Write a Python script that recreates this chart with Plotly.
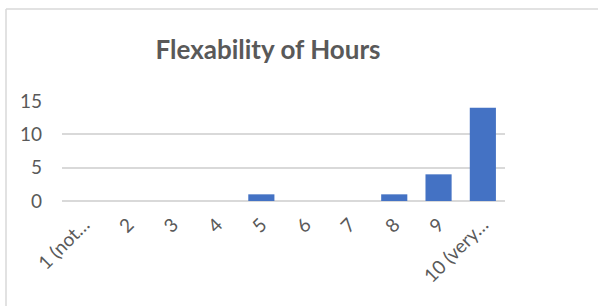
import plotly.graph_objects as go

categories = ["1 (not…", "2", "3", "4", "5", "6", "7", "8", "9", "10 (very…"]
values = [0, 0, 0, 0, 1, 0, 0, 1, 4, 14]
y_ticks = [0, 5, 10, 15]

W, H = 598, 306
L, R, T, B = 62, 93, 101, 105
pw = W - L - R
ph = H - T - B

def px2x(px):
    return (px - L) / pw

def py2y(py):
    return (H - B - py) / ph

fig = go.Figure(go.Bar(x=categories, y=values, marker_color="#4472C4",
                       marker_line_width=0))

border = dict(color="#d9d9d9", width=1.5)
fig.update_layout(
    width=W, height=H,
    margin=dict(l=L, r=R, t=T, b=B, autoexpand=False),
    paper_bgcolor="white", plot_bgcolor="white",
    bargap=0.41,
    showlegend=False,
    title=dict(text="<b>Flexability of Hours</b>", x=268 / W, xanchor="center",
               y=1 - 50 / H, yanchor="middle",
               font=dict(family="Lato, Open Sans, sans-serif", size=26, color="#595959")),
    font=dict(family="Lato, Open Sans, sans-serif", color="#595959", size=19),
    shapes=[
        dict(type="line", xref="paper", yref="paper",
             x0=px2x(6), x1=px2x(6), y0=py2y(9), y1=py2y(310), line=border, layer="below"),
        dict(type="line", xref="paper", yref="paper",
             x0=px2x(6), x1=px2x(600), y0=py2y(9), y1=py2y(9), line=border, layer="below"),
    ],
)
fig.update_xaxes(tickangle=-45, showgrid=False, showline=False, ticks="", automargin=False,
                 tickfont=dict(size=19, color="#595959"), ticklabelstandoff=8)
fig.update_yaxes(range=[0, 15], tickvals=y_ticks, showgrid=True, gridcolor="#d9d9d9",
                 gridwidth=1.5, zeroline=True, zerolinecolor="#d9d9d9", zerolinewidth=1.5,
                 automargin=False,
                 tickfont=dict(size=19, color="#595959"), ticklabelstandoff=19)

fig.write_html("out.html", config={"displayModeBar": False},
               post_script="document.body.style.margin='0';")
